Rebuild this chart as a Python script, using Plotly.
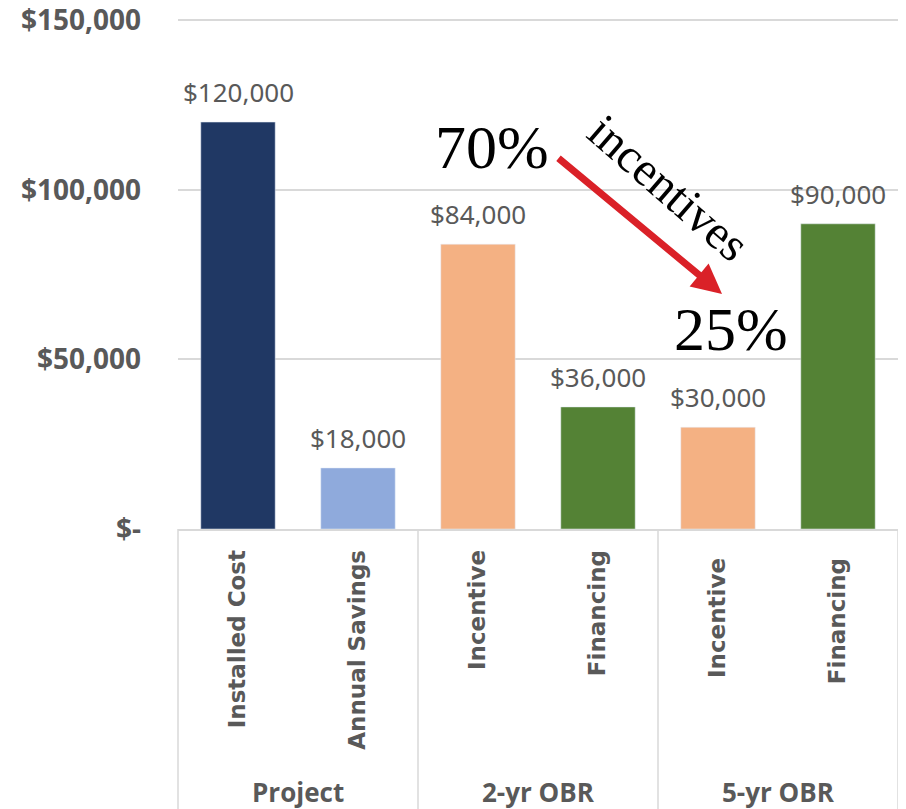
import plotly.graph_objects as go

groups = ["Project", "Project", "2-yr OBR", "2-yr OBR", "5-yr OBR", "5-yr OBR"]
categories = ["Installed Cost", "Annual Savings", "Incentive", "Financing", "Incentive ", "Financing "]
values = [120000, 18000, 84000, 36000, 30000, 90000]
colors = ["#203864", "#8FAADC", "#F4B183", "#548235", "#F4B183", "#548235"]
group_names = ["Project", "2-yr OBR", "5-yr OBR"]
y_tickvals = [0, 50000, 100000, 150000]
y_ticktext = ["$-", "$50,000", "$100,000", "$150,000"]

labels = ["${:,.0f}".format(v) for v in values]

# plot area in page pixels (page has an 8px body margin)
PL, PT, PW, PH = 178, 19, 720, 510


def px(x):
    return (x - PL) / PW


def py(y):
    return (PT + PH - y) / PH


grey = "#595959"

fig = go.Figure()
fig.add_trace(go.Bar(
    x=categories, y=values, marker_color=colors,
    hoverinfo="skip",
))

# value labels above bars
for c, v, t in zip(categories, values, labels):
    fig.add_annotation(x=c, y=v, xref="x", yref="y", text=t, showarrow=False,
                       xanchor="center", yanchor="bottom", yshift=10,
                       font=dict(family="Noto Sans", size=26, color=grey))

fig.update_layout(
    width=898, height=801,
    margin=dict(l=170, r=8, t=11, b=280, autoexpand=False),
    plot_bgcolor="white", paper_bgcolor="white",
    showlegend=False, bargap=0.38,
    xaxis=dict(
        type="category", tickangle=-90, automargin=False,
        tickfont=dict(family="DejaVu Sans", size=23, color=grey, weight="bold"),
        showline=True, linecolor="#D9D9D9", linewidth=1.5,
        ticks="", ticklabelstandoff=10,
    ),
    yaxis=dict(
        range=[0, 150400], tickvals=y_tickvals, ticktext=y_ticktext, automargin=False,
        tickfont=dict(family="Open Sans", size=28, color=grey, weight="bold"),
        showgrid=True, gridcolor="#D9D9D9", gridwidth=1.5,
        zeroline=False, ticks="", ticklabelstandoff=36, ticklabeloverflow="allow",
    ),
)

# group divider lines
for i in range(4):
    fig.add_shape(type="line", xref="paper", yref="paper",
                  x0=i / 3, x1=i / 3, y0=0, y1=-0.6,
                  line=dict(color="#D9D9D9", width=1.5))

# group labels
for i, g in enumerate(group_names):
    fig.add_annotation(text=g, xref="paper", yref="paper",
                       x=(i + 0.5) / 3, y=py(792), xanchor="center", yanchor="middle",
                       showarrow=False,
                       font=dict(family="Open Sans", size=26, color=grey, weight="bold"))

# red arrow
fig.add_annotation(xref="paper", yref="paper", x=px(722), y=py(294),
                   ax=-165, ay=-137, text="", showarrow=True,
                   arrowhead=2, arrowsize=0.85, arrowwidth=7, arrowcolor="#DA2128")

serif = "Liberation Serif"
fig.add_annotation(xref="paper", yref="paper", x=px(492), y=py(147),
                   xanchor="center", yanchor="middle",
                   text="70%", showarrow=False,
                   font=dict(family=serif, size=62, color="black"))
fig.add_annotation(xref="paper", yref="paper", x=px(731), y=py(329),
                   xanchor="center", yanchor="middle",
                   text="25%", showarrow=False,
                   font=dict(family=serif, size=62, color="black"))
fig.add_annotation(xref="paper", yref="paper", x=px(669), y=py(187),
                   xanchor="center", yanchor="middle",
                   text="incentives", showarrow=False, textangle=41,
                   font=dict(family=serif, size=48, color="black"))

fig.write_html("out.html")
